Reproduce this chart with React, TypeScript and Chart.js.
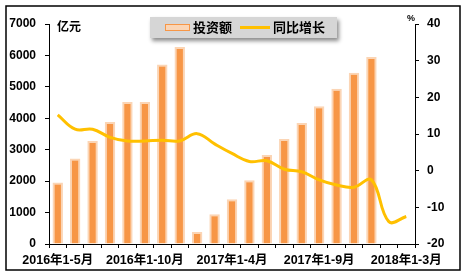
import React, { useEffect, useRef } from "react";
import { Chart, registerables } from "chart.js";

Chart.register(...registerables);

const categories = [
  "2016年1-5月", "2016年1-6月", "2016年1-7月", "2016年1-8月", "2016年1-9月",
  "2016年1-10月", "2016年1-11月", "2016年1-12月",
  "2017年1-2月", "2017年1-3月", "2017年1-4月", "2017年1-5月", "2017年1-6月",
  "2017年1-7月", "2017年1-8月", "2017年1-9月", "2017年1-10月", "2017年1-11月",
  "2017年1-12月", "2018年1-2月", "2018年1-3月",
];

const investment = [
  1960, 2720, 3280, 3880, 4520, 4520, 5710, 6270,
  380, 950, 1420, 2030, 2830, 3340, 3850, 4380, 4940, 5450, 5950,
  null, null,
];

const growth = [
  15.2, 11.3, 11.3, 9.1, 8.1, 8.1, 8.3, 8.1,
  10.1, 7.3, 4.7, 2.5, 2.7, 0.4, -0.3, -2.5, -3.9, -4.5, -2.5,
  -13.9, -12.5,
];

const leftTicks = { min: 0, max: 7000, step: 1000 };
const rightTicks = { min: -20, max: 40, step: 10 };

const seriesNames = ["投资额", "同比增长"];
const leftUnit = "亿元";
const rightUnit = "%";

const ORANGE = "#F79646";
const PEACH = "#FBD5B5";
const GOLD = "#FFC000";
const FONT = '"Liberation Sans", Arial, "Noto Sans CJK SC", sans-serif';

const decorPlugin = {
  id: "decor",
  beforeDraw(chart: any) {
    const ctx = chart.ctx;
    ctx.save();
    ctx.fillStyle = "#ffffff";
    ctx.fillRect(0, 0, chart.width, chart.height);
    ctx.restore();
  },
  afterDraw(chart: any) {
    const ctx = chart.ctx;
    const area = chart.chartArea;
    ctx.save();
    // outer frame
    ctx.strokeStyle = "#000";
    ctx.lineWidth = 1.5;
    ctx.strokeRect(6, 6, 454, 264);

    // unit labels
    ctx.fillStyle = "#000";
    ctx.font = `bold 12px ${FONT}`;
    ctx.textBaseline = "middle";
    ctx.textAlign = "left";
    ctx.fillText(leftUnit, area.left + 8, area.top + 4);
    ctx.font = `bold 9px ${FONT}`;
    ctx.textAlign = "center";
    ctx.fillText(rightUnit, area.right - 4, area.top - 5);

    // legend box
    const lx = 150, ly = 17, lw = 187, lh = 21;
    ctx.save();
    ctx.shadowColor = "rgba(0,0,0,0.45)";
    ctx.shadowBlur = 4;
    ctx.shadowOffsetX = 2;
    ctx.shadowOffsetY = 3;
    ctx.fillStyle = "#D6D6D6";
    ctx.fillRect(lx, ly, lw, lh);
    ctx.restore();

    const cy = ly + lh / 2;
    // bar swatch
    ctx.fillStyle = PEACH;
    ctx.fillRect(165, cy - 3.5, 25, 7);
    ctx.strokeStyle = ORANGE;
    ctx.lineWidth = 1;
    ctx.strokeRect(165.5, cy - 3, 24, 6);
    // line swatch
    ctx.strokeStyle = GOLD;
    ctx.lineWidth = 3;
    ctx.beginPath();
    ctx.moveTo(240, cy);
    ctx.lineTo(270, cy);
    ctx.stroke();

    ctx.fillStyle = "#000";
    ctx.font = `bold 13px ${FONT}`;
    ctx.textAlign = "left";
    ctx.textBaseline = "middle";
    ctx.fillText(seriesNames[0], 193, cy + 0.5);
    ctx.fillText(seriesNames[1], 273, cy + 0.5);
    ctx.restore();
  },
};

export default function App() {
  const ref = useRef<HTMLCanvasElement>(null);

  useEffect(() => {
    if (!ref.current) return;
    const chart = new Chart(ref.current, {
      type: "bar",
      data: {
        labels: categories,
        datasets: [
          {
            type: "line",
            label: seriesNames[1],
            data: growth,
            yAxisID: "y1",
            borderColor: GOLD,
            borderWidth: 3,
            pointRadius: 0,
            tension: 0.4,
            fill: false,
            order: 1,
          } as any,
          {
            type: "bar",
            label: seriesNames[0],
            data: investment,
            yAxisID: "y",
            backgroundColor: ORANGE,
            borderColor: PEACH,
            borderWidth: 2,
            borderSkipped: "bottom",
            categoryPercentage: 1,
            barPercentage: 0.6,
            order: 2,
          } as any,
        ],
      },
      options: {
        responsive: false,
        animation: false,
        layout: { padding: { top: 24, left: 0, right: 0, bottom: 0 } },
        plugins: {
          legend: { display: false },
          tooltip: { enabled: false },
        },
        scales: {
          x: {
            offset: true,
            grid: {
              display: true,
              drawOnChartArea: false,
              drawTicks: true,
              tickLength: 4,
              color: "#000",
              offset: true,
            },
            border: { display: true, color: "#000", width: 1 },
            ticks: {
              autoSkip: false,
              maxRotation: 0,
              minRotation: 0,
              padding: 5,
              color: "#000",
              font: { family: FONT, size: 12.5, weight: 700 },
              callback: (_v: any, i: number) => (i % 5 === 0 ? categories[i] : ""),
            },
            afterFit: (s: any) => {
              s.height = 35;
            },
          },
          y: {
            position: "left",
            min: leftTicks.min,
            max: leftTicks.max,
            grid: {
              display: true,
              drawOnChartArea: false,
              tickLength: 4,
              color: "#000",
            },
            border: { display: true, color: "#000", width: 1 },
            ticks: {
              stepSize: leftTicks.step,
              padding: 9,
              color: "#000",
              font: { family: FONT, size: 12, weight: 700 },
              callback: (v: any) => String(v),
            },
            afterFit: (s: any) => {
              s.width = 49;
            },
          },
          y1: {
            position: "right",
            min: rightTicks.min,
            max: rightTicks.max,
            grid: {
              display: true,
              drawOnChartArea: false,
              tickLength: 4,
              color: "#000",
            },
            border: { display: true, color: "#000", width: 1 },
            ticks: {
              stepSize: rightTicks.step,
              padding: 8,
              color: "#000",
              font: { family: FONT, size: 12, weight: 700 },
              callback: (v: any) => String(v),
            },
            afterFit: (s: any) => {
              s.width = 54;
            },
          },
        },
      },
      plugins: [decorPlugin],
    });
    return () => chart.destroy();
  }, []);

  return (
    <div style={{ position: "absolute", left: 0, top: 0, width: 469, height: 279 }}>
      <canvas ref={ref} width={469} height={279} style={{ display: "block" }} />
    </div>
  );
}
